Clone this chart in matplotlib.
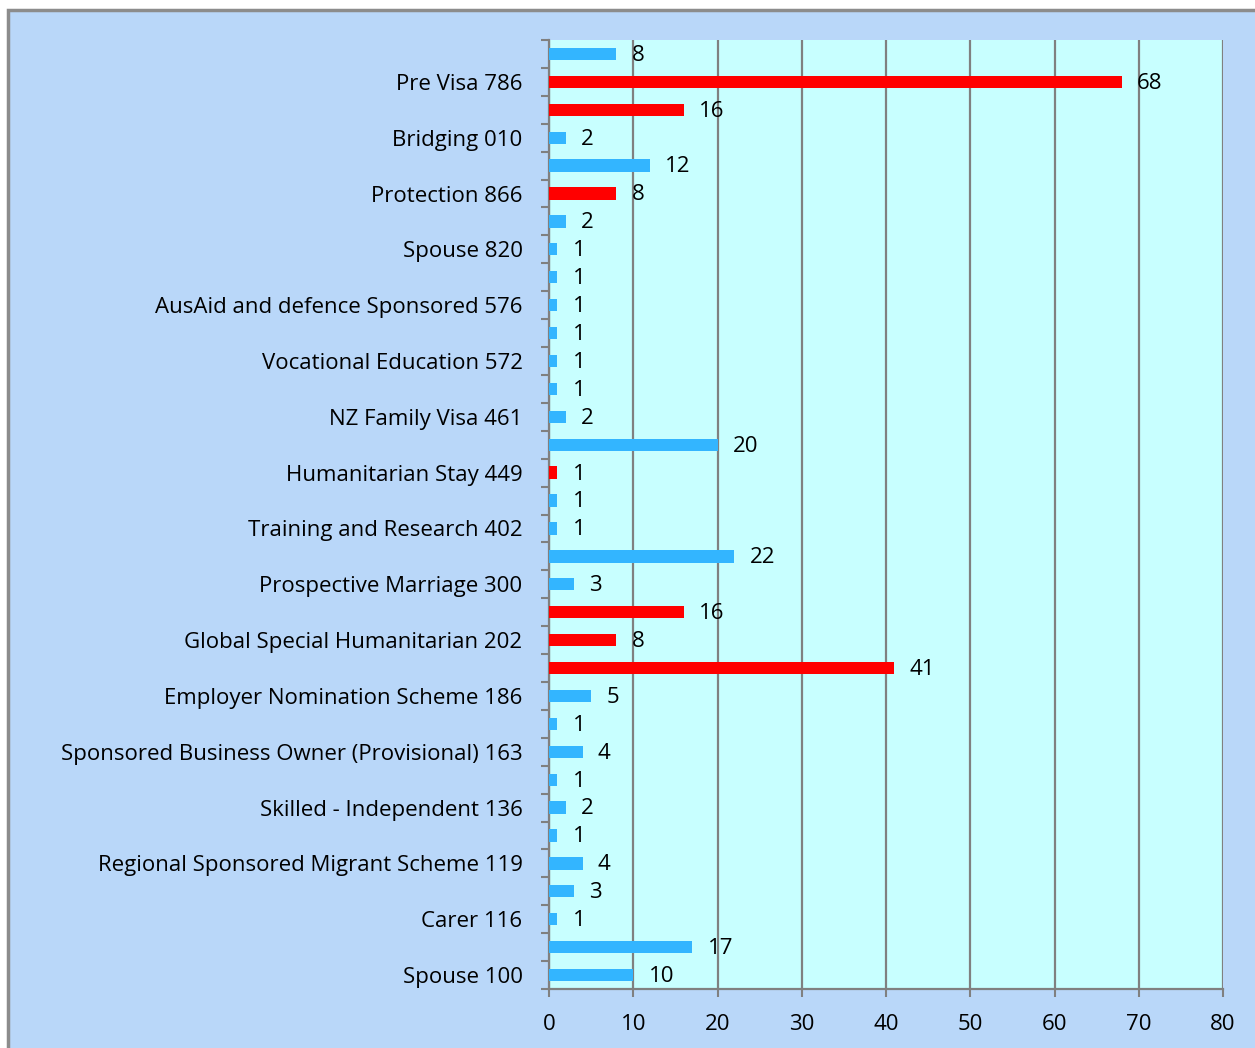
#!/usr/bin/env python3

"""
Horizontal bar chart of visa subclass counts.
"""

import matplotlib
matplotlib.use('Agg')
import matplotlib.pyplot as plt
from matplotlib.patches import Rectangle

# bottom to top; every other bar carries a name
labels = ['Spouse 100', '', 'Carer 116', '', 'Regional Sponsored Migrant Scheme 119', '',
          'Skilled - Independent 136', '', 'Sponsored Business Owner (Provisional) 163', '',
          'Employer Nomination Scheme 186', '', 'Global Special Humanitarian 202', '',
          'Prospective Marriage 300', '', 'Training and Research 402', '',
          'Humanitarian Stay 449', '', 'NZ Family Visa 461', '', 'Vocational Education 572', '',
          'AusAid and defence Sponsored 576', '', 'Spouse 820', '', 'Protection 866', '',
          'Bridging 010', '', 'Pre Visa 786', '']
values = [10, 17, 1, 3, 4, 1, 2, 1, 4, 1,
          5, 41, 8, 16, 3, 22, 1, 1, 1, 20,
          2, 1, 1, 1, 1, 1, 1, 2, 8, 12,
          2, 16, 68, 8]
highlight = [False, False, False, False, False, False, False, False, False, False,
             False, True, True, True, False, False, False, False, True, False,
             False, False, False, False, False, False, False, False, True, False,
             False, True, True, False]

BLUE = '#33B5FF'
RED = '#FF0000'
GRID = '#808080'
FONT = 'Open Sans'
SIZE = 16

fig = plt.figure(figsize=(12.55, 10.48), dpi=100, facecolor='white')
fig.patches.append(Rectangle((8 / 1255, -0.1), 1.2, 1 - 10 / 1048 + 0.1,
                             transform=fig.transFigure, facecolor='#B9D7F9',
                             edgecolor='#8C8C8C', linewidth=2.5, zorder=-10))

ax = fig.add_axes([549 / 1255, 59 / 1048, 674 / 1255, 949 / 1048])
ax.set_facecolor('#C8FFFF')

ypos = list(range(len(values)))
colors = [RED if h else BLUE for h in highlight]
ax.barh(ypos, values, height=0.44, color=colors, zorder=3)

for y, v in zip(ypos, values):
    ax.annotate(str(v), (v, y), xytext=(11, -1), textcoords='offset points',
                va='center', ha='left', fontsize=SIZE, family=FONT, zorder=4)

ax.set_xlim(0, 80)
ax.set_ylim(-0.5, len(values) - 0.5)
ax.set_xticks(range(0, 81, 10))
ax.tick_params(axis='x', length=6, width=1.5, color=GRID, pad=12, labelsize=SIZE)
for t in ax.get_xticklabels():
    t.set_family(FONT)
ax.grid(axis='x', color=GRID, linewidth=1.6, zorder=1)

# tick marks between bars, names at the bar centres
ax.set_yticks([i - 0.5 for i in range(len(values) + 1)])
ax.set_yticklabels([])
ax.tick_params(axis='y', which='major', length=6, width=1.5, color=GRID)
named = [i for i, s in enumerate(labels) if s]
ax.set_yticks(named, minor=True)
ax.set_yticklabels([labels[i] for i in named], minor=True, family=FONT, fontsize=SIZE)
ax.tick_params(axis='y', which='minor', length=0, pad=19)

for side in ['top', 'right']:
    ax.spines[side].set_visible(False)
for side in ['left', 'bottom']:
    ax.spines[side].set_color(GRID)
    ax.spines[side].set_linewidth(1.6)

fig.savefig('out.png', dpi=100, facecolor=fig.get_facecolor())
